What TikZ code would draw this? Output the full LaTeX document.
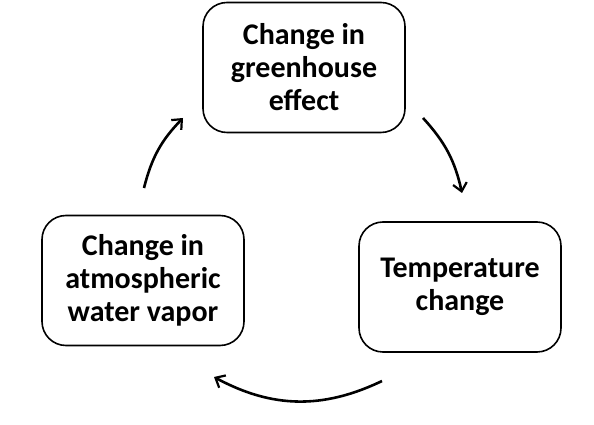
\documentclass[tikz,border=0pt]{standalone}
\usepackage{fontspec}
\setmainfont{Carlito}
\usepackage{tikz}
\usetikzlibrary{arrows.meta}

\begin{document}
\begin{tikzpicture}[
      font=\fontsize{30}{33}\selectfont\bfseries,
      box/.style={draw, line width=1.6pt, rounded corners=24pt, align=center,
                  minimum width=202pt, minimum height=130pt, inner sep=0pt},
      cycle/.style={line width=2.6pt,
                    -{Straight Barb[length=8pt, width=14pt, line width=2.2pt]}},
      >={Stealth[]}]

    \useasboundingbox (0pt,0pt) rectangle (594pt,425pt);

    \node[box] (ghe) at (304pt,357.5pt)
      {Change in\\greenhouse\\effect};
    \node[box] (temp) at (460pt,138pt)
      {Temperature\\change};
    \node[box] (vap) at (143pt,144.5pt)
      {Change in\\atmospheric\\water vapor};

    \coordinate (a1) at (423pt,307pt);
    \coordinate (a2) at (462pt,232pt);
    \coordinate (b1) at (382pt,44pt);
    \coordinate (b2) at (214pt,48pt);
    \coordinate (c1) at (144pt,237pt);
    \coordinate (c2) at (183pt,307pt);

    \draw[cycle] (a1) to[bend left=15] (a2);
    \draw[cycle] (b1) to[bend left=27] (b2);
    \draw[cycle] (c1) to[bend left=15] (c2);
  \end{tikzpicture}
\end{document}
